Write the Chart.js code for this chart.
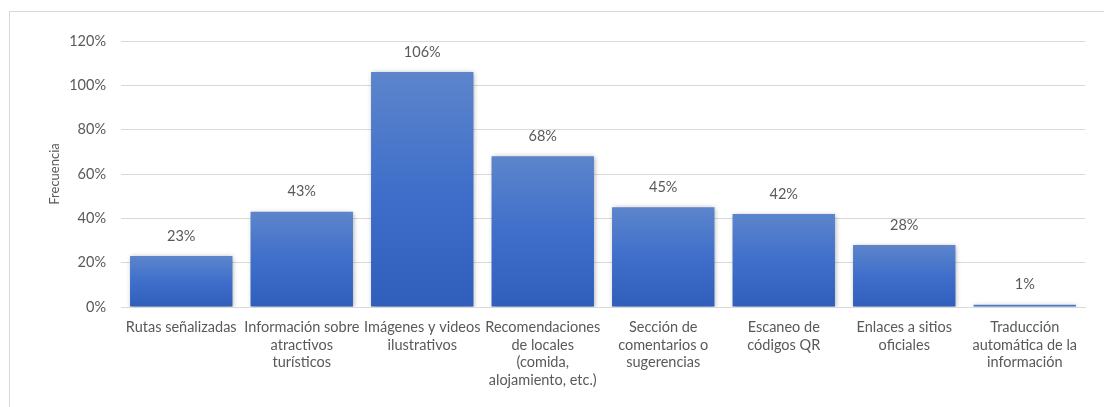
<!DOCTYPE html>
<html>
<head>
<meta charset="utf-8">
<script src="https://cdn.jsdelivr.net/npm/chart.js@4"></script>
<style>
  html, body { margin: 0; padding: 0; background: #fff; }
  #wrap { position: relative; width: 1104px; height: 407px; }
  #frame { position: absolute; left: 9px; top: 11px; width: 1110px; height: 420px; border: 1px solid #d9d9d9; box-sizing: border-box; }
  canvas { position: absolute; left: 0; top: 0; }
</style>
</head>
<body>
<div id="wrap">
  <div id="frame"></div>
  <canvas id="barChart" width="1104" height="407"></canvas>
</div>
<script>
// Kategorier (x-axeln)
const categories = [
    'Rutas señalizadas',
    ['Información sobre', 'atractivos', 'turísticos'],
    ['Imágenes y videos', 'ilustrativos'],
    ['Recomendaciones', 'de locales', '(comida,', 'alojamiento, etc.)'],
    ['Sección de', 'comentarios o', 'sugerencias'],
    ['Escaneo de', 'códigos QR'],
    ['Enlaces a sitios', 'oficiales'],
    ['Traducción', 'automática de la', 'información']
];

// Frecuencia i procent
const frequency = [23, 43, 106, 68, 45, 42, 28, 1];

// Y-axelns tick-värden
const yTicks = [0, 20, 40, 60, 80, 100, 120];

const textColor = '#595959';
const fontFamily = 'Lato, "Open Sans", sans-serif';

/**
 * Gradient per stapel, ljusare upptill och mörkare nertill.
 */
function barGradient(context) {
    const chart = context.chart;
    const yScale = chart.scales.y;
    if (!yScale || context.parsed === undefined) return '#4472c4';
    const top = yScale.getPixelForValue(context.parsed.y);
    const base = yScale.getPixelForValue(0);
    if (!isFinite(top) || Math.abs(base - top) < 1) return '#3c6bc9';
    const g = chart.ctx.createLinearGradient(0, top, 0, base);
    g.addColorStop(0, '#5d85cc');
    g.addColorStop(0.5, '#3f6fca');
    g.addColorStop(1, '#2f5fbb');
    return g;
}

// Skugga bakom staplarna
const shadowPlugin = {
    id: 'barShadow',
    beforeDatasetsDraw(chart) {
        const ctx = chart.ctx;
        ctx.save();
        ctx.shadowColor = 'rgba(0,0,0,0.35)';
        ctx.shadowBlur = 5;
        ctx.shadowOffsetX = 1;
        ctx.shadowOffsetY = 1;
    },
    afterDatasetsDraw(chart) {
        chart.ctx.restore();
    }
};

// Värdeetiketter ovanför staplarna
const valueLabels = {
    id: 'valueLabels',
    afterDatasetsDraw(chart) {
        const ctx = chart.ctx;
        const meta = chart.getDatasetMeta(0);
        ctx.save();
        ctx.fillStyle = textColor;
        ctx.font = '14.5px ' + fontFamily;
        ctx.textAlign = 'center';
        ctx.textBaseline = 'middle';
        meta.data.forEach((bar, i) => {
            ctx.fillText(frequency[i] + '%', bar.x, bar.y - 20);
        });
        ctx.restore();
    }
};

new Chart(document.getElementById('barChart'), {
    type: 'bar',
    data: {
        labels: categories,
        datasets: [{
            label: 'Frecuencia',
            data: frequency,
            backgroundColor: barGradient,
            borderWidth: 0,
            categoryPercentage: 0.85,
            barPercentage: 1
        }]
    },
    options: {
        responsive: false,
        animation: false,
        layout: { padding: { top: 41, right: 19, left: 0, bottom: 0 } },
        plugins: {
            legend: { display: false },
            tooltip: { enabled: false }
        },
        scales: {
            x: {
                grid: { display: false, drawTicks: false },
                border: { color: '#d9d9d9', width: 1 },
                ticks: {
                    color: textColor,
                    font: { family: fontFamily, size: 14.5 },
                    autoSkip: false,
                    maxRotation: 0,
                    padding: 12
                },
                afterFit(scale) { scale.height = 100; }
            },
            y: {
                min: 0,
                max: yTicks[yTicks.length - 1],
                grid: { color: '#d9d9d9', drawTicks: false },
                border: { display: false },
                afterBuildTicks(scale) {
                    scale.ticks = yTicks.map(v => ({ value: v }));
                },
                ticks: {
                    color: textColor,
                    font: { family: fontFamily, size: 14.5 },
                    padding: 15,
                    callback: v => v + '%'
                },
                title: {
                    display: true,
                    text: 'Frecuencia',
                    color: textColor,
                    font: { family: fontFamily, size: 13 },
                    padding: { top: 47, bottom: 0 }
                },
                afterFit(scale) { scale.width = 121; }
            }
        }
    },
    plugins: [shadowPlugin, valueLabels]
});
</script>
</body>
</html>
